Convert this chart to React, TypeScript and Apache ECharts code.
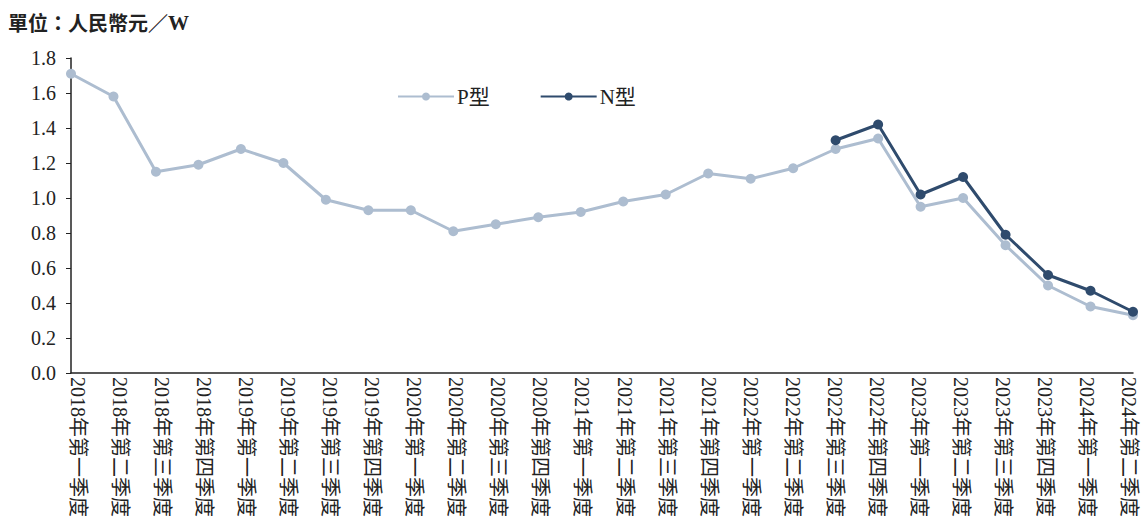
import React, { useEffect, useRef } from "react";
import * as echarts from "echarts";

const categories = [
  "2018年第一季度", "2018年第二季度", "2018年第三季度", "2018年第四季度",
  "2019年第一季度", "2019年第二季度", "2019年第三季度", "2019年第四季度",
  "2020年第一季度", "2020年第二季度", "2020年第三季度", "2020年第四季度",
  "2021年第一季度", "2021年第二季度", "2021年第三季度", "2021年第四季度",
  "2022年第一季度", "2022年第二季度", "2022年第三季度", "2022年第四季度",
  "2023年第一季度", "2023年第二季度", "2023年第三季度", "2023年第四季度",
  "2024年第一季度", "2024年第二季度",
];

const pType = [
  1.71, 1.58, 1.15, 1.19, 1.28, 1.2, 0.99, 0.93, 0.93, 0.81, 0.85, 0.89, 0.92,
  0.98, 1.02, 1.14, 1.11, 1.17, 1.28, 1.34, 0.95, 1.0, 0.73, 0.5, 0.38, 0.33,
];

const nType = [
  null, null, null, null, null, null, null, null, null, null, null, null, null,
  null, null, null, null, null, 1.33, 1.42, 1.02, 1.12, 0.79, 0.56, 0.47, 0.35,
];

const FONT = "'Liberation Serif', 'Times New Roman', 'Noto Sans CJK TC', serif";
const P_COLOR = "#adbdd0";
const N_COLOR = "#2f4b6d";

export default function App() {
  const ref = useRef<HTMLDivElement>(null);
  useEffect(() => {
    if (!ref.current) return;
    const chart = echarts.init(ref.current, null, { renderer: "svg" });
    chart.setOption({
      animation: false,
      textStyle: { fontFamily: FONT },
      graphic: [
        {
          type: "text",
          left: 8,
          top: 12,
          style: {
            text: "{a|單位：人民幣元／}{b|W}",
            rich: {
              a: {
                fontFamily: "'Noto Sans CJK TC', sans-serif",
                fontWeight: "bold",
                fontSize: 20,
                fill: "#222",
                color: "#222",
              },
              b: {
                fontFamily: "'Liberation Serif', serif",
                fontWeight: "bold",
                fontSize: 21,
                fill: "#222",
                color: "#222",
              },
            },
          },
        },
      ],
      legend: {
        top: 81,
        left: 392,
        itemWidth: 56,
        itemHeight: 10,
        itemGap: 50,
        textStyle: { fontFamily: FONT, fontSize: 21, color: "#222", padding: [0, 0, 0, -2] },
        data: ["P型", "N型"],
      },
      grid: [
        { left: 71, right: 9, top: 58, bottom: 147, containLabel: false },
        { left: 68, right: 23, top: 58, bottom: 147, containLabel: false },
      ],
      xAxis: [
        {
          type: "category",
          gridIndex: 0,
          data: categories,
          boundaryGap: false,
          axisLine: { lineStyle: { color: "#222", width: 1.5 } },
          axisTick: { show: false },
          axisLabel: { show: false },
        },
        {
          type: "category",
          gridIndex: 1,
          data: categories,
          boundaryGap: false,
          axisLine: { show: false },
          axisTick: { show: false },
          axisLabel: {
            rotate: -90,
            interval: 0,
            margin: 9,
            fontSize: 20,
            color: "#222",
            fontFamily: FONT,
            verticalAlign: "bottom",
          },
        },
      ],
      yAxis: [
        {
          type: "value",
          gridIndex: 0,
          min: 0,
          max: 1.8,
          interval: 0.2,
          splitLine: { show: false },
          axisLine: { show: true, lineStyle: { color: "#222", width: 1.5 } },
          axisTick: { show: true, length: 5, lineStyle: { color: "#222" } },
          axisLabel: {
            fontSize: 20,
            color: "#222",
            margin: 15,
            fontFamily: FONT,
            formatter: (v: number) => v.toFixed(1),
          },
        },
        {
          type: "value",
          gridIndex: 1,
          min: 0,
          max: 1.8,
          interval: 0.2,
          show: false,
        },
      ],
      series: [
        {
          name: "P型",
          type: "line",
          xAxisIndex: 0,
          yAxisIndex: 0,
          data: pType,
          symbol: "circle",
          symbolSize: 10,
          lineStyle: { color: P_COLOR, width: 3 },
          itemStyle: { color: P_COLOR },
        },
        {
          name: "N型",
          type: "line",
          xAxisIndex: 0,
          yAxisIndex: 0,
          data: nType,
          symbol: "circle",
          symbolSize: 10,
          connectNulls: false,
          lineStyle: { color: N_COLOR, width: 3 },
          itemStyle: { color: N_COLOR },
        },
      ],
    });
    return () => chart.dispose();
  }, []);
  return <div ref={ref} style={{ width: 1142, height: 520, position: "absolute", left: 0, top: 0 }} />;
}
